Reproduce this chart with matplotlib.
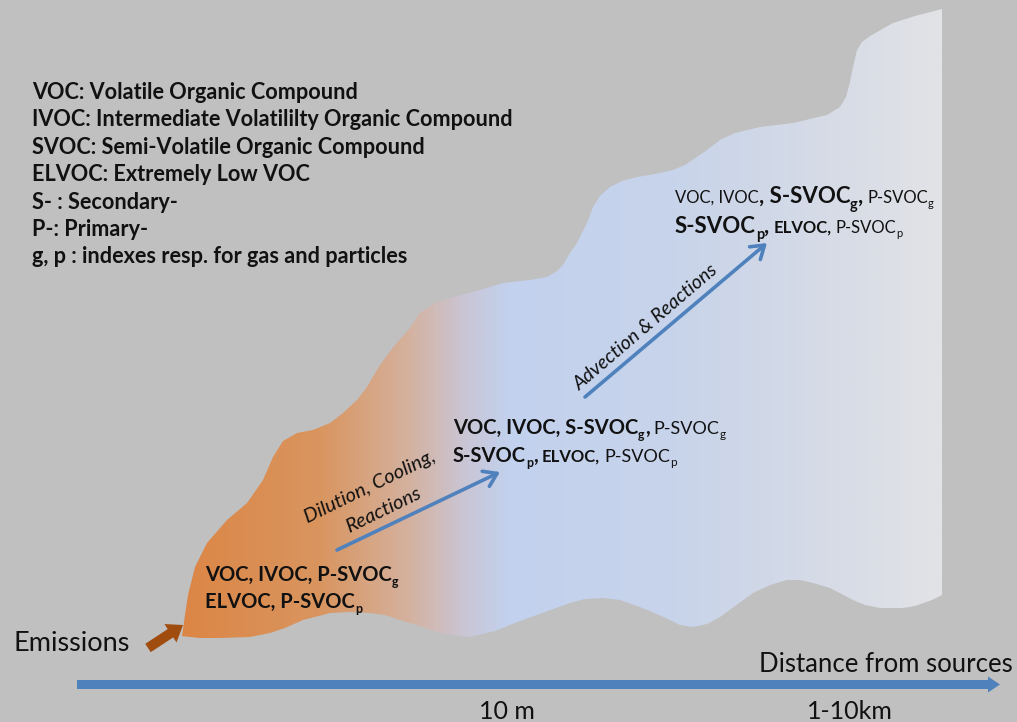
"""
Plume diagram: evolution of organic compounds with distance from sources.
"""

import numpy as np
import matplotlib
matplotlib.use('Agg')
import matplotlib.pyplot as plt
from matplotlib.colors import LinearSegmentedColormap
from matplotlib.patches import Polygon

plt.rcParams['font.family'] = ['Lato', 'DejaVu Sans']

# Plume outline (pixel coords), top/left edge from the source tip to the top right
TOP_X = [182, 185, 188, 195, 207, 227, 247, 263, 273, 283, 297, 313, 330, 343, 357,
         367, 380, 395, 410, 420, 435, 453, 480, 503, 530, 547, 557, 563, 570, 577,
         587, 593, 600, 610, 622, 637, 655, 673, 685, 697, 707, 720, 735, 760, 793,
         827, 840, 846, 850, 853, 857, 862, 870, 893, 915, 942]
TOP_Y = [636, 615, 595, 567, 543, 520, 503, 480, 457, 441, 433, 430, 423, 413, 400,
         387, 365, 345, 328, 313, 303, 297, 290, 283, 280, 277, 271, 265, 253, 243,
         223, 207, 196, 187, 181, 177, 174, 170, 165, 157, 150, 140, 133, 127, 123,
         115, 107, 97, 82, 67, 50, 42, 36, 23, 16, 9]
# bottom edge, right to left
BOT_X = [942, 932, 915, 903, 880, 865, 853, 830, 813, 800, 787, 770, 753, 735, 720,
         707, 693, 680, 670, 650, 637, 620, 603, 585, 570, 545, 520, 495, 470, 450,
         437, 420, 403, 385, 370, 350, 330, 315, 303, 285, 270, 250, 220, 200, 190]
BOT_Y = [595, 600, 606, 608, 608, 605, 600, 588, 583, 580, 580, 585, 593, 606, 617,
         624, 627, 625, 620, 611, 606, 600, 598, 599, 603, 612, 621, 631, 637, 635,
         632, 626, 621, 615, 613, 612, 613, 617, 620, 628, 633, 637, 638, 638, 637]

# Colour stops across the plume (fraction of width -> colour)
GRAD_POS = [0.0, 0.18, 0.30, 0.37, 0.43, 0.65, 0.85, 1.0]
GRAD_COL = ['#dc8646', '#d9955f', '#d4b2a0', '#cac5d4', '#c2d1ee', '#c8d4ea',
            '#d6dbe6', '#e2e3e6']

DEFINITIONS = [
    'VOC: Volatile Organic Compound',
    'IVOC: Intermediate Volatililty Organic Compound',
    'SVOC: Semi-Volatile Organic Compound',
    'ELVOC: Extremely Low VOC',
    'S- : Secondary-',
    'P-: Primary-',
    'g, p : indexes resp. for gas and particles',
]

# text runs: (piece, style key); a leading space means a word gap
NEAR_LINES = [
    [('VOC, IVOC, P-SVOC', 'B'), ('g', 'Bs')],
    [('ELVOC, P-SVOC', 'B'), ('p', 'Bs')],
]
MID_LINES = [
    [('VOC, IVOC, S-SVOC', 'B'), ('g', 'Bs'), (',', 'B'), (' P-SVOC', 'R'), ('g', 'Rs')],
    [('S-SVOC', 'B'), ('p', 'Bs'), (',', 'B'), (' ELVOC,', 'b'), (' P-SVOC', 'R'), ('p', 'Rs')],
]
FAR_LINES = [
    [('VOC, IVOC', 'r'), (', S-SVOC', 'L'), ('g', 'Ls'), (',', 'L'), (' P-SVOC', 'r'), ('g', 'rs')],
    [('S-SVOC', 'L'), ('p', 'Ls'), (',', 'L'), (' ELVOC,', 'b'), (' P-SVOC', 'r'), ('p', 'rs')],
]

DISTANCE_TICKS = ['10 m', '1-10km']

# style key -> (fontsize, weight, baseline shift px)
RUN_STYLES = {
    'B': (14.5, 'bold', 0), 'Bs': (9, 'bold', 5),
    'R': (13, 'normal', 0), 'Rs': (8.5, 'normal', 4),
    'b': (12, 'bold', 0),
    'L': (16, 'bold', 0), 'Ls': (10.5, 'bold', 6),
    'r': (12, 'normal', 0), 'rs': (8, 'normal', 4),
}

BG = '#c0c0c0'
BLUE = '#4f81bd'
BROWN = '#a04c0e'
INK = '#111111'


def draw_runs(ax, x, y, runs, renderer):
    """Write mixed-style pieces one after another along a baseline."""
    for piece, key in runs:
        size, weight, shift = RUN_STYLES[key]
        if piece.startswith(' '):
            x += 0.24 * size * 100 / 72
            piece = piece.lstrip()
        t = ax.text(x, y + shift, piece, fontsize=size, fontweight=weight,
                    ha='left', va='baseline', color=INK)
        x += t.get_window_extent(renderer).width


fig = plt.figure(figsize=(10.17, 7.22), dpi=100)
fig.patch.set_facecolor(BG)
ax = fig.add_axes([0, 0, 1, 1])
renderer = fig.canvas.get_renderer()

# Plume with horizontal gradient
xs = TOP_X + BOT_X
ys = TOP_Y + BOT_Y
plume = Polygon(np.column_stack([xs, ys]), closed=True, facecolor='none',
                edgecolor='none')
ax.add_patch(plume)
cmap = LinearSegmentedColormap.from_list('plume', list(zip(GRAD_POS, GRAD_COL)))
grad = np.linspace(0, 1, 512).reshape(1, -1)
img = ax.imshow(grad, cmap=cmap, aspect='auto',
                extent=[min(xs), max(xs), max(ys), min(ys)], interpolation='bilinear')
img.set_clip_path(plume)
ax.set_xlim(0, 1017)
ax.set_ylim(722, 0)
ax.axis('off')

# Definitions block
for i, line in enumerate(DEFINITIONS):
    ax.text(32, 99 + i * 27.4, line, fontsize=15.6, fontweight='bold',
            ha='left', va='baseline', color=INK)

# Compound lists at three stages
for i, runs in enumerate(NEAR_LINES):
    draw_runs(ax, 205, 581 + i * 27, runs, renderer)
for i, runs in enumerate(MID_LINES):
    draw_runs(ax, 453, 434 + i * 28, runs, renderer)
for i, runs in enumerate(FAR_LINES):
    draw_runs(ax, 675, 203 + i * 30, runs, renderer)

# Process arrows and labels
arrow_kw = dict(arrowstyle='->,head_length=0.45,head_width=0.3', color=BLUE,
                lw=2.6, mutation_scale=20, shrinkA=0, shrinkB=0)
ax.annotate('', xy=(500, 472), xytext=(337, 550), arrowprops=arrow_kw)
ax.annotate('', xy=(767, 243), xytext=(585, 397), arrowprops=arrow_kw)

ax.text(370, 487, 'Dilution, Cooling,', fontsize=14.5, style='italic', rotation=26,
        rotation_mode='anchor', ha='center', va='center', color=INK)
ax.text(383, 510, 'Reactions', fontsize=14.5, style='italic', rotation=26,
        rotation_mode='anchor', ha='center', va='center', color=INK)
ax.text(646, 327, 'Advection & Reactions', fontsize=14, style='italic', rotation=40.5,
        rotation_mode='anchor', ha='center', va='center', color=INK)

# Emissions
ax.arrow(148, 648, 35, -23, width=10, head_width=22, head_length=15,
         length_includes_head=True, color=BROWN, linewidth=0)
ax.text(13, 651, 'Emissions', fontsize=19.5, ha='left', va='baseline', color=INK)

# Distance axis
ax.arrow(77, 684.5, 923, 0, width=9, head_width=16, head_length=12,
         length_includes_head=True, color=BLUE, linewidth=0)
ax.text(1013, 672, 'Distance from sources', fontsize=18.5, ha='right',
        va='baseline', color=INK)
for label, xc in zip(DISTANCE_TICKS, [507, 850]):
    ax.text(xc, 719, label, fontsize=18, ha='center', va='baseline', color=INK)

plt.savefig('out.png', dpi=100, facecolor=fig.get_facecolor())
plt.close()
